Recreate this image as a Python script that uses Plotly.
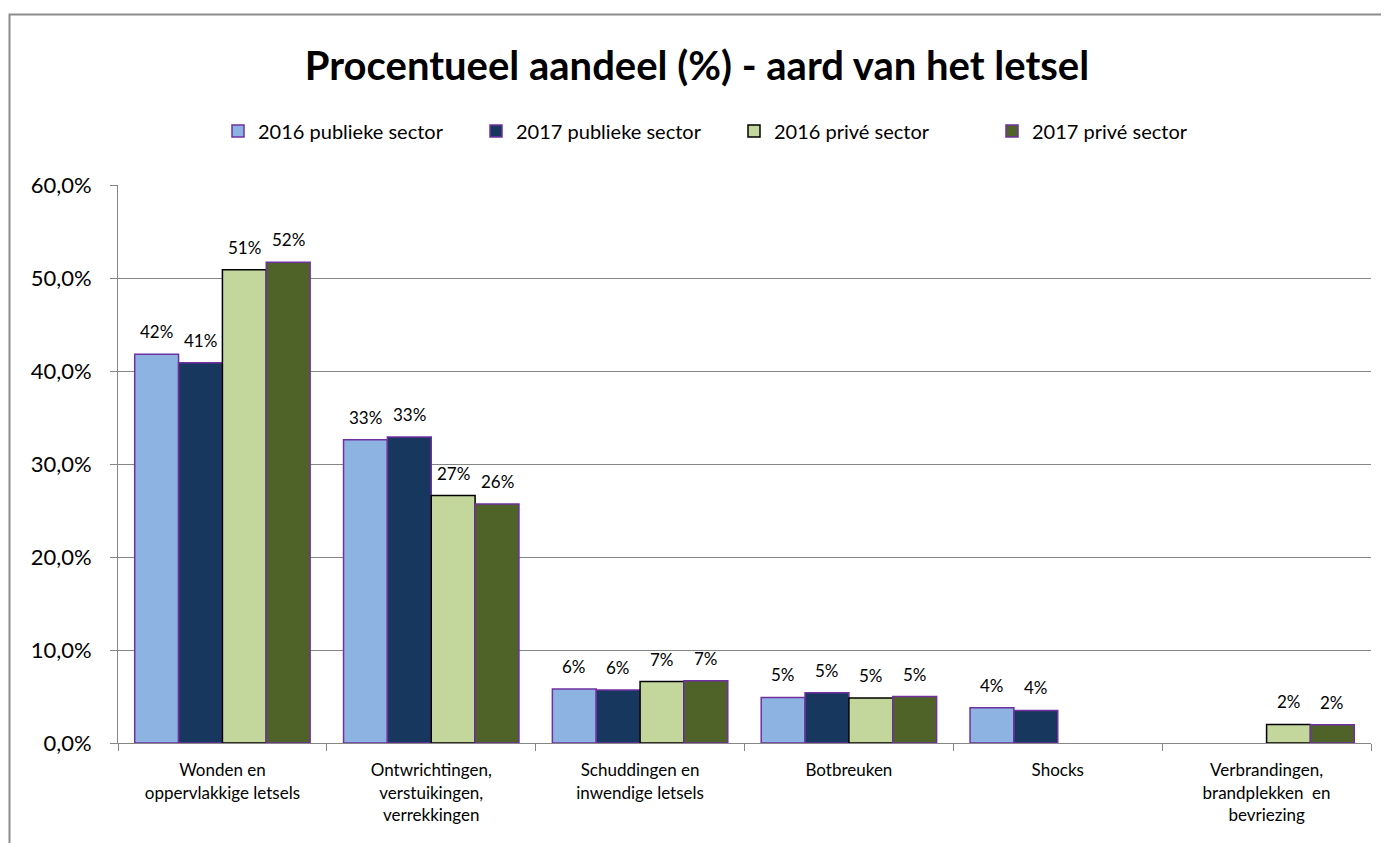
import plotly.graph_objects as go

categories = [
    "Wonden en<br>oppervlakkige letsels",
    "Ontwrichtingen,<br>verstuikingen,<br>verrekkingen",
    "Schuddingen en<br>inwendige letsels",
    "Botbreuken",
    "Shocks",
    "Verbrandingen,<br>brandplekken  en<br>bevriezing",
]
series_names = ["2016 publieke sector", "2017 publieke sector", "2016 privé sector", "2017 privé sector"]
pub_2016 = [41.8, 32.6, 5.8, 4.9, 3.8, None]
pub_2017 = [40.9, 32.9, 5.7, 5.4, 3.5, None]
priv_2016 = [50.9, 26.6, 6.6, 4.85, None, 2.0]
priv_2017 = [51.7, 25.7, 6.7, 5.0, None, 1.95]
series_values = [pub_2016, pub_2017, priv_2016, priv_2017]
fill_colors = ["#8DB3E2", "#17375E", "#C3D69B", "#4F6228"]
line_colors = ["#7030A0", "#7030A0", "#000000", "#7030A0"]
y_tick_values = [0, 10, 20, 30, 40, 50, 60]
y_tick_labels = ["0,0%", "10,0%", "20,0%", "30,0%", "40,0%", "50,0%", "60,0%"]

FONT = "Lato, 'Open Sans', sans-serif"

# the page places the figure at an 8px body margin
OFF = 8
FW, FH = 1389 - OFF, 843 - OFF

# plot area in page pixels
L_pg, R_pg, T_pg, B_pg = 118, 1371, 185, 743
L = L_pg - OFF
T = T_pg - OFF
W = R_pg - L_pg
H = B_pg - T_pg
R = FW - L - W
B = FH - T - H
px = lambda x: (x - L_pg) / W
py = lambda y: (B_pg - y) / H

BARGAP = 0.16
n_series = len(series_names)
bar_px = (1 - BARGAP) / n_series * W / len(categories)

fig = go.Figure()
annotations = []
for i, (name, vals, fc, lc) in enumerate(zip(series_names, series_values, fill_colors, line_colors)):
    fig.add_trace(go.Bar(
        x=categories, y=vals, name=name,
        marker=dict(color=fc, line=dict(color=lc, width=1.5)),
    ))
    shift = (i - (n_series - 1) / 2) * bar_px
    for cat, v in zip(categories, vals):
        if v is None:
            continue
        annotations.append(dict(
            x=cat, y=v, xref="x", yref="y", text=f"{v:.0f}%", showarrow=False,
            xanchor="center", yanchor="bottom", xshift=shift, yshift=10,
            font=dict(size=17, color="#000000", family=FONT),
        ))

fig.update_layout(
    width=FW, height=FH,
    margin=dict(l=L, r=R, t=T, b=B, autoexpand=False),
    paper_bgcolor="white", plot_bgcolor="white",
    font=dict(family=FONT, color="#000000"),
    title=dict(text="<b>Procentueel aandeel (%) - aard van het letsel</b>",
               x=(697 - OFF) / FW, xref="container", xanchor="center",
               y=1 - (66 - OFF) / FH, yanchor="middle",
               font=dict(size=40, family=FONT, color="#000000")),
    legend=dict(orientation="h", x=(218 - OFF) / FW, xanchor="left", xref="container",
                y=1 - (131 - OFF) / FH, yanchor="middle", yref="container",
                entrywidth=213, entrywidthmode="pixels", itemwidth=30,
                font=dict(size=20, family=FONT), traceorder="normal"),
    barmode="group", bargap=BARGAP, bargroupgap=0.0,
    xaxis=dict(type="category", showline=True, linecolor="#868686", linewidth=1,
               ticks="outside", ticklen=7, tickcolor="#868686", tickson="boundaries",
               ticklabelstandoff=12,
               tickfont=dict(size=17, family=FONT), showgrid=False),
    yaxis=dict(range=[0, 60], tickvals=y_tick_values, ticktext=y_tick_labels,
               showline=True, linecolor="#868686", linewidth=1,
               ticks="outside", ticklen=7, tickcolor="#868686",
               gridcolor="#868686", gridwidth=1, zeroline=False,
               ticklabelstandoff=14,
               tickfont=dict(size=22, family=FONT)),
    annotations=annotations,
    shapes=[dict(type="rect", xref="paper", yref="paper",
                 x0=px(9.5), x1=px(1420), y0=py(900), y1=py(14.5),
                 line=dict(color="#8C8C8C", width=2), fillcolor="rgba(0,0,0,0)", layer="below")],
)

fig.write_html("out.html")
